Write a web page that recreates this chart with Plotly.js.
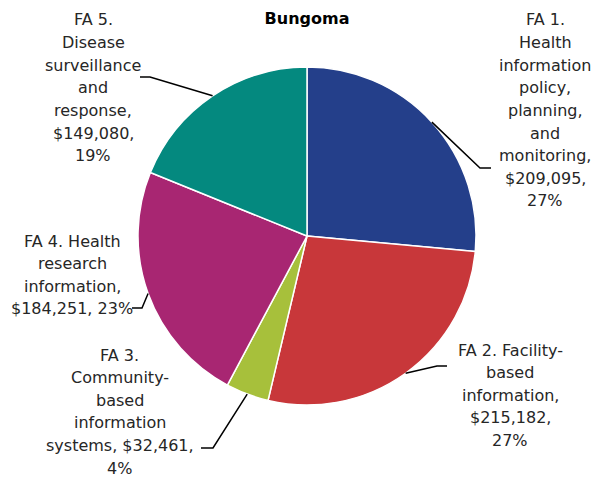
<!DOCTYPE html>
<html>
<head>
<meta charset="utf-8">
<script src="https://cdn.plot.ly/plotly-3.0.1.min.js"></script>
<style>html,body{margin:0;padding:0;background:#fff;}#chart{width:604px;height:477px;}</style>
</head>
<body>
<div id="chart"></div>
<script>
// ---- data ----
const categories = [
  "FA 1. Health information policy, planning, and monitoring",
  "FA 2. Facility-based information",
  "FA 3. Community-based information systems",
  "FA 4. Health research information",
  "FA 5. Disease surveillance and response"
];
const values = [209095, 215182, 32461, 184251, 149080];
const colors = ["#243F8A", "#C8373A", "#A7C03B", "#A82672", "#04897F"];
const labelLines = [
  ["FA 1.", "Health", "information", "policy,", "planning,", "and", "monitoring,", "$209,095,", "27%"],
  ["FA 2. Facility-", "based", "information,", "$215,182,", "27%"],
  ["FA 3.", "Community-", "based", "information", "systems, $32,461,", "4%"],
  ["FA 4. Health", "research", "information,", "$184,251, 23%"],
  ["FA 5.", "Disease", "surveillance", "and", "response,", "$149,080,", "19%"]
];
const chartTitle = "Bungoma";

// ---- layout geometry (pixels) ----
const W = 604, H = 477;
const cx = 307, cy = 236, R = 169;
// label block: center x, first line center y
const labelPos = [[545, 20], [510, 350], [120, 355], [72, 241], [93, 20]];
const lineStep = 22.6;
// leader line elbow and end points
const elbows = [[480, 168, 491], [437, 366, 447], [213, 448, 201], [142, 308, 132], [150, 77, 140]];

const px = x => x / W;
const py = y => 1 - y / H;

const total = values.reduce((a, b) => a + b, 0);
let cum = 0;
const shapes = [];
const annotations = [];
values.forEach((v, i) => {
  const mid = (cum + v / 2) / total;
  cum += v;
  const ang = mid * 2 * Math.PI;
  const sx = cx + R * Math.sin(ang);
  const sy = cy - R * Math.cos(ang);
  const [ex, ey, hx] = elbows[i];
  shapes.push({
    type: 'path', xref: 'paper', yref: 'paper',
    path: `M ${px(sx)} ${py(sy)} L ${px(ex)} ${py(ey)} L ${px(hx)} ${py(ey)}`,
    line: {color: '#000000', width: 1.5}
  });
  const [lx, ly] = labelPos[i];
  labelLines[i].forEach((t, k) => {
    annotations.push({
      text: t, xref: 'paper', yref: 'paper',
      x: px(lx), y: py(ly + k * lineStep),
      xanchor: 'center', yanchor: 'middle', showarrow: false,
      font: {family: 'DejaVu Sans', size: 16, color: '#262626'}
    });
  });
});

const trace = {
  type: 'pie',
  labels: categories,
  values: values,
  sort: false,
  direction: 'clockwise',
  rotation: 0,
  textinfo: 'none',
  hoverinfo: 'none',
  automargin: false,
  marker: {colors: colors, line: {color: '#ffffff', width: 1.5}},
  domain: {x: [(cx - R) / W, (cx + R) / W], y: [1 - (cy + R) / H, 1 - (cy - R) / H]},
  showlegend: false
};

const layout = {
  width: W, height: H,
  margin: {l: 0, r: 0, t: 0, b: 0},
  paper_bgcolor: '#ffffff',
  showlegend: false,
  title: {
    text: '<b>' + chartTitle + '</b>',
    x: 307 / W, xanchor: 'center', xref: 'paper',
    y: 1 - 18 / H, yanchor: 'middle', yref: 'container',
    font: {family: 'DejaVu Sans', size: 16, color: '#000000'}
  },
  shapes: shapes,
  annotations: annotations
};

Plotly.newPlot('chart', [trace], layout, {displayModeBar: false, staticPlot: true});
</script>
</body>
</html>
